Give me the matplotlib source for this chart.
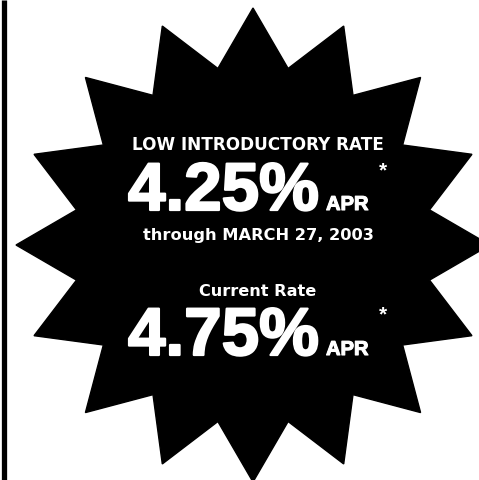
import matplotlib
matplotlib.use("Agg")
import matplotlib.pyplot as plt
import matplotlib.patheffects as pe
import numpy as np
from matplotlib.patches import Polygon

# textos del anuncio
titulo = "LOW INTRODUCTORY RATE"
tasa_intro = "4.25%"
fecha = "through MARCH 27, 2003"
subtitulo = "Current Rate"
tasa_actual = "4.75%"
sufijo = "APR"

# estrella de 16 puntas
n_puntas = 16
centro = (253, 245)
r_ext = 237
r_int = 180

fig = plt.figure(figsize=(4.79, 4.80), dpi=100)
ax = fig.add_axes([0, 0, 1, 1])
ax.set_xlim(0, 479)
ax.set_ylim(480, 0)
ax.axis("off")

ang = np.arange(2 * n_puntas) * np.pi / n_puntas
radios = np.where(np.arange(2 * n_puntas) % 2 == 0, r_ext, r_int)
xs = centro[0] + radios * np.sin(ang)
ys = centro[1] - radios * np.cos(ang)
ax.add_patch(Polygon(np.column_stack([xs, ys]), closed=True,
                     facecolor="black", edgecolor="black"))

# borde izquierdo
ax.plot([4.5, 4.5], [0, 480], color="black", lw=3.8, solid_capstyle="butt")

chica = "DejaVu Sans"
grande = "Liberation Sans"
grueso = [pe.withStroke(linewidth=1.6, foreground="white")]
grueso_apr = [pe.withStroke(linewidth=0.8, foreground="white")]

ax.text(258, 150, titulo, color="white", fontsize=12.2, fontweight="bold",
        family=chica, ha="center", va="baseline")
ax.text(128, 210, tasa_intro, color="white", fontsize=48.5, fontweight="bold",
        family=grande, ha="left", va="baseline", path_effects=grueso)
ax.text(326, 210, sufijo, color="white", fontsize=14.5, fontweight="bold",
        family=grande, ha="left", va="baseline", path_effects=grueso_apr)
ax.text(383, 176, "*", color="white", fontsize=15, fontweight="bold",
        family=grande, ha="center", va="baseline")
ax.text(258, 240, fecha, color="white", fontsize=11.7, fontweight="bold",
        family=chica, ha="center", va="baseline")
ax.text(258, 296, subtitulo, color="white", fontsize=11.6, fontweight="bold",
        family=chica, ha="center", va="baseline")
ax.text(128, 355, tasa_actual, color="white", fontsize=48.5, fontweight="bold",
        family=grande, ha="left", va="baseline", path_effects=grueso)
ax.text(326, 355, sufijo, color="white", fontsize=14.5, fontweight="bold",
        family=grande, ha="left", va="baseline", path_effects=grueso_apr)
ax.text(383, 320, "*", color="white", fontsize=15, fontweight="bold",
        family=grande, ha="center", va="baseline")

fig.savefig("out.png", dpi=100, facecolor="white")
